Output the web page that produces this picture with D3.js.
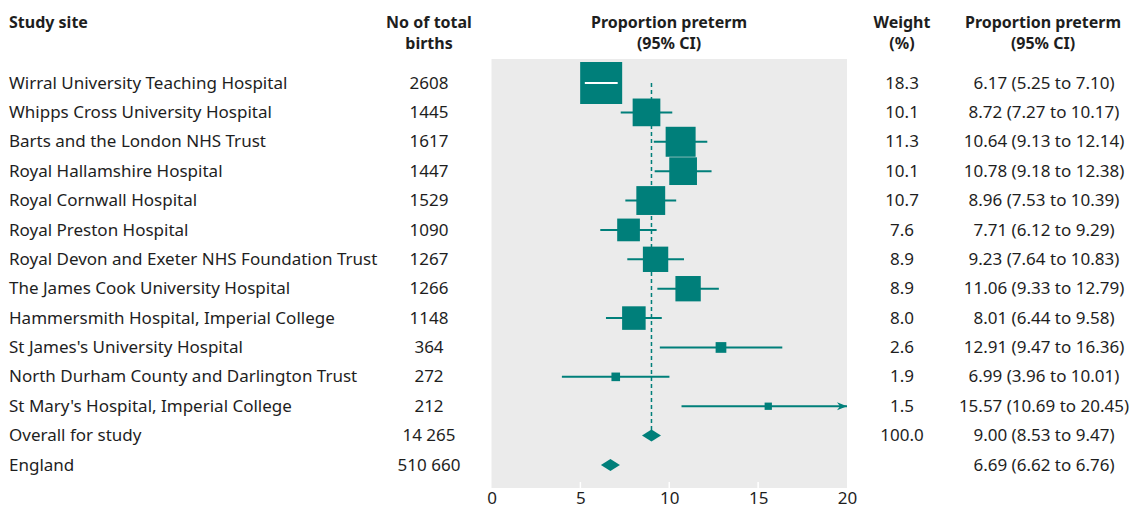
<!DOCTYPE html>
<html>
<head>
<meta charset="utf-8">
<script src="https://cdn.jsdelivr.net/npm/d3@7"></script>
<style>
  body { margin: 0; background: #fff; }
  svg text { font-family: "Noto Sans", sans-serif; fill: #1e1e1e; }
  .hdr { font-weight: bold; }
</style>
</head>
<body>
<svg id="chart" width="1138" height="509"></svg>
<script>
const sites = [
    "Wirral University Teaching Hospital",
    "Whipps Cross University Hospital",
    "Barts and the London NHS Trust",
    "Royal Hallamshire Hospital",
    "Royal Cornwall Hospital",
    "Royal Preston Hospital",
    "Royal Devon and Exeter NHS Foundation Trust",
    "The James Cook University Hospital",
    "Hammersmith Hospital, Imperial College",
    "St James's University Hospital",
    "North Durham County and Darlington Trust",
    "St Mary's Hospital, Imperial College",
    "Overall for study",
    "England",
];
const births = [2608, 1445, 1617, 1447, 1529, 1090, 1267, 1266, 1148, 364, 272, 212, 14265, 510660];
const estimate = [6.17, 8.72, 10.64, 10.78, 8.96, 7.71, 9.23, 11.06, 8.01, 12.91, 6.99, 15.57, 9.0, 6.69];
const lower = [5.25, 7.27, 9.13, 9.18, 7.53, 6.12, 7.64, 9.33, 6.44, 9.47, 3.96, 10.69, 8.53, 6.62];
const upper = [7.1, 10.17, 12.14, 12.38, 10.39, 9.29, 10.83, 12.79, 9.58, 16.36, 10.01, 20.45, 9.47, 6.76];
const weights = [18.3, 10.1, 11.3, 10.1, 10.7, 7.6, 8.9, 8.9, 8.0, 2.6, 1.9, 1.5, 100.0, null];
const kind = ["site", "site", "site", "site", "site", "site", "site", "site", "site", "site", "site", "site", "pooled", "pooled"];
const xTicks = [0, 5, 10, 15, 20];

const teal = "#007f7a";
const fontSize = 17;
const headerSize = 16;

const rows = sites.map((s, i) => ({
    site: s,
    births: births[i],
    est: estimate[i],
    lo: lower[i],
    hi: upper[i],
    weight: weights[i],
    kind: kind[i],
}));

const svg = d3.select("#chart");

const x = d3.scaleLinear().domain([0, 20]).range([491.5, 847]);
const y = d3.scalePoint().domain(sites).range([83, 465]);
const boxSize = d3.scalePow().exponent(0.7).domain([0, 18.3]).range([0, 42]);

// panel
svg.append("rect")
    .attr("x", x(0))
    .attr("y", 59)
    .attr("width", x(20) - x(0))
    .attr("height", 488 - 59)
    .attr("fill", "#ebebeb");

// axis (white ticks inside panel, labels below)
const axis = svg.append("g")
    .attr("transform", `translate(0,488)`)
    .call(d3.axisBottom(x).tickValues(xTicks).tickSize(0).tickPadding(4));
axis.select(".domain").remove();
axis.selectAll("text")
    .style("font-family", '"Noto Sans", sans-serif')
    .style("font-size", fontSize + "px")
    .attr("fill", "#1e1e1e");
svg.append("g")
    .selectAll("line")
    .data(xTicks.slice(1, -1))
    .join("line")
    .attr("x1", (d) => x(d))
    .attr("x2", (d) => x(d))
    .attr("y1", 482)
    .attr("y2", 488)
    .attr("stroke", "#fff")
    .attr("stroke-width", 1.5);

// headers
const header = (lines, xPos, anchor) => {
    const t = svg.append("text")
        .attr("class", "hdr")
        .attr("x", xPos)
        .attr("text-anchor", anchor)
        .style("font-size", headerSize + "px");
    lines.forEach((l, i) => {
        t.append("tspan").attr("x", xPos).attr("y", 28 + i * 20.5).text(l);
    });
};
header(["Study site"], 9, "start");
header(["No of total", "births"], 429, "middle");
header(["Proportion preterm", "(95% CI)"], 669, "middle");
header(["Weight", "(%)"], 902, "middle");
header(["Proportion preterm", "(95% CI)"], 1043, "middle");

// text columns
const fmtBirths = (n) => (n >= 10000 ? d3.format(",")(n).replace(/,/g, " ") : String(n));
const cols = svg.append("g").style("font-size", fontSize + "px");
cols.selectAll(".site")
    .data(rows)
    .join("text")
    .attr("class", "site")
    .attr("x", 9)
    .attr("y", (d) => y(d.site))
    .attr("dy", "0.33em")
    .text((d) => d.site);
cols.selectAll(".births")
    .data(rows)
    .join("text")
    .attr("class", "births")
    .attr("x", 429)
    .attr("y", (d) => y(d.site))
    .attr("dy", "0.33em")
    .attr("text-anchor", "middle")
    .text((d) => fmtBirths(d.births));
cols.selectAll(".weight")
    .data(rows.filter((d) => d.weight !== null))
    .join("text")
    .attr("class", "weight")
    .attr("x", 902)
    .attr("y", (d) => y(d.site))
    .attr("dy", "0.33em")
    .attr("text-anchor", "middle")
    .text((d) => d3.format(".1f")(d.weight));
cols.selectAll(".ci")
    .data(rows)
    .join("text")
    .attr("class", "ci")
    .attr("x", 1044)
    .attr("y", (d) => y(d.site))
    .attr("dy", "0.33em")
    .attr("text-anchor", "middle")
    .text((d) => `${d.est.toFixed(2)} (${d.lo.toFixed(2)} to ${d.hi.toFixed(2)})`);

// pooled reference line
const overall = rows.find((d) => d.site === "Overall for study");
svg.append("line")
    .attr("x1", x(overall.est))
    .attr("x2", x(overall.est))
    .attr("y1", y(sites[0]))
    .attr("y2", y(overall.site))
    .attr("stroke", teal)
    .attr("stroke-width", 1.5)
    .attr("stroke-dasharray", "4,3");

// arrow marker
svg.append("defs")
    .append("marker")
    .attr("id", "arrow")
    .attr("viewBox", "0 0 10 10")
    .attr("refX", 10)
    .attr("refY", 5)
    .attr("markerWidth", 6)
    .attr("markerHeight", 5)
    .attr("markerUnits", "strokeWidth")
    .attr("orient", "auto")
    .append("path")
    .attr("d", "M0,1L10,5L0,9L3,5Z")
    .attr("fill", teal);

const studies = rows.filter((d) => d.kind === "site");
const marks = svg.append("g");

studies.forEach((d) => {
    const cy = y(d.site);
    const s = boxSize(d.weight);
    const x1 = x(Math.max(d.lo, 0));
    const x2 = x(Math.min(d.hi, 20));
    const inside = x1 >= x(d.est) - s / 2 && x2 <= x(d.est) + s / 2;
    const ci = () =>
        marks.append("line")
            .attr("x1", x1)
            .attr("x2", x2)
            .attr("y1", cy)
            .attr("y2", cy)
            .attr("stroke-width", 2)
            .attr("marker-end", d.hi > 20 ? "url(#arrow)" : null);
    if (!inside) ci().attr("stroke", teal);
    marks.append("rect")
        .attr("x", x(d.est) - s / 2)
        .attr("y", cy - s / 2)
        .attr("width", s)
        .attr("height", s)
        .attr("fill", teal);
    if (inside) ci().attr("stroke", "#fff");
});

// diamonds for pooled estimates
rows.filter((d) => d.kind === "pooled").forEach((d) => {
    const cy = y(d.site);
    const half = Math.max((x(d.hi) - x(d.lo)) / 2, 9.5);
    const cx = x(d.est);
    marks.append("path")
        .attr("d", `M${cx - half},${cy}L${cx},${cy - 6}L${cx + half},${cy}L${cx},${cy + 6}Z`)
        .attr("fill", teal);
});
</script>
</body>
</html>
